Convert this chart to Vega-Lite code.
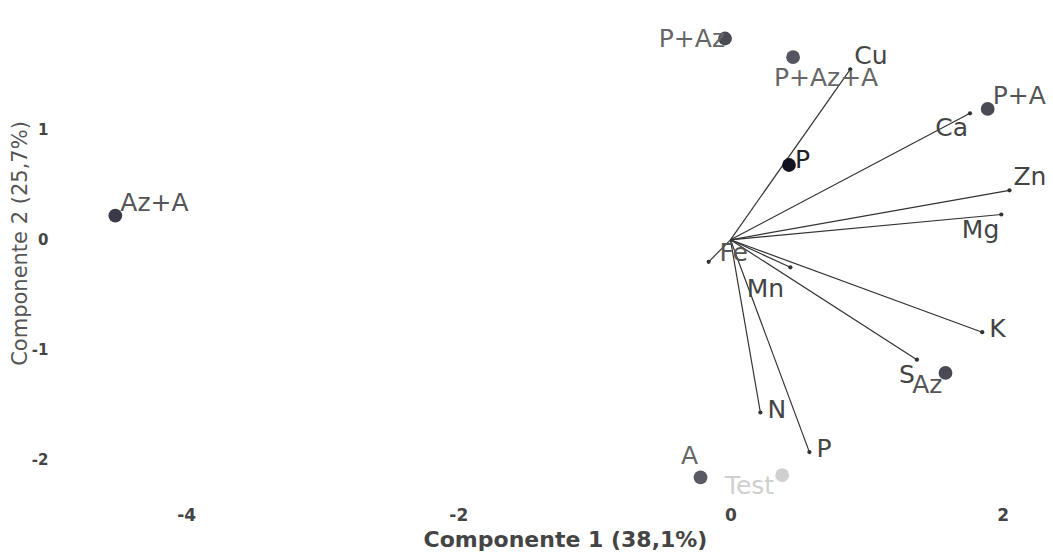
{
  "$schema": "https://vega.github.io/schema/vega-lite/v6.json",
  "width": 1003,
  "height": 495,
  "autosize": "none",
  "padding": {"left": 50, "top": 0, "right": 0, "bottom": 63},
  "background": "white",
  "datasets": {
    "scores": [
      {"name": "P+Az", "pc1": -0.04, "pc2": 1.83},
      {"name": "P+Az+A", "pc1": 0.46, "pc2": 1.66},
      {"name": "P+A", "pc1": 1.89, "pc2": 1.19},
      {"name": "P", "pc1": 0.43, "pc2": 0.68},
      {"name": "Az+A", "pc1": -4.52, "pc2": 0.22},
      {"name": "Az", "pc1": 1.58, "pc2": -1.21},
      {"name": "A", "pc1": -0.22, "pc2": -2.16},
      {"name": "Test", "pc1": 0.38, "pc2": -2.14}
    ],
    "loadings": [
      {"var": "Cu", "pc1": 0.88, "pc2": 1.55},
      {"var": "Ca", "pc1": 1.76, "pc2": 1.15},
      {"var": "Zn", "pc1": 2.05, "pc2": 0.45},
      {"var": "Mg", "pc1": 1.99, "pc2": 0.23},
      {"var": "K", "pc1": 1.85, "pc2": -0.84},
      {"var": "S", "pc1": 1.37, "pc2": -1.09},
      {"var": "N", "pc1": 0.22, "pc2": -1.57},
      {"var": "P", "pc1": 0.58, "pc2": -1.93},
      {"var": "Mn", "pc1": 0.44, "pc2": -0.25},
      {"var": "Fe", "pc1": -0.16, "pc2": -0.2}
    ]
  },
  "encoding": {
    "x": {
      "field": "pc1",
      "type": "quantitative",
      "scale": {"domain": [-5.0, 2.37], "nice": false, "zero": false},
      "axis": {
        "title": "Componente 1 (38,1%)",
        "values": [-4, -2, 0, 2],
        "labelExpr": "replace(datum.label, '\u2212', '-')",
        "grid": false,
        "domain": false,
        "ticks": false,
        "labelPadding": 12,
        "labelFontSize": 17,
        "labelFont": "DejaVu Sans",
        "labelFontWeight": "bold",
        "labelColor": "#444",
        "titleFont": "DejaVu Sans",
        "titleFontSize": 22,
        "titleFontWeight": "bold",
        "titleColor": "#444",
        "titleBaseline": "middle",
        "titleX": 515,
        "titleY": 44
      }
    },
    "y": {
      "field": "pc2",
      "type": "quantitative",
      "scale": {"domain": [-2.32, 2.18], "nice": false, "zero": false},
      "axis": {
        "title": "Componente 2 (25,7%)",
        "values": [-2, -1, 0, 1],
        "labelExpr": "replace(datum.label, '\u2212', '-')",
        "grid": false,
        "domain": false,
        "ticks": false,
        "labelPadding": 2,
        "labelFontSize": 15,
        "labelFont": "DejaVu Sans",
        "labelFontWeight": "bold",
        "labelColor": "#444",
        "titleFont": "DejaVu Sans",
        "titleFontSize": 21,
        "titleFontWeight": "normal",
        "titleColor": "#555",
        "titleBaseline": "middle",
        "titleX": -30,
        "titleY": 243
      }
    }
  },
  "layer": [
    {
      "data": {"values": [{}]},
      "mark": {"type": "rule", "color": "#aaa", "strokeDash": [2, 2], "strokeWidth": 1},
      "encoding": {"x": {"datum": 0}, "y": null}
    },
    {
      "data": {"values": [{}]},
      "mark": {"type": "rule", "color": "#aaa", "strokeDash": [2, 2], "strokeWidth": 1},
      "encoding": {"y": {"datum": 0}, "x": null}
    },
    {
      "data": {"name": "loadings"},
      "mark": {"type": "rule", "color": "#333", "strokeWidth": 1.2},
      "encoding": {
        "x": {"datum": 0},
        "y": {"datum": 0},
        "x2": {"field": "pc1"},
        "y2": {"field": "pc2"}
      }
    },
    {
      "data": {"name": "loadings"},
      "mark": {"type": "point", "filled": true, "size": 18, "color": "#333", "opacity": 1}
    },
    {
      "data": {"name": "scores"},
      "mark": {"type": "circle", "size": 190, "opacity": 1},
      "encoding": {
        "color": {
          "field": "name",
          "type": "nominal",
          "legend": null,
          "scale": {
            "domain": ["P+Az", "P+Az+A", "P+A", "P", "Az+A", "Az", "A", "Test"],
            "range": ["#4a4a55", "#555560", "#4a4a55", "#111122", "#3a3a48", "#4a4a55", "#5a5a62", "#cfcfcf"]
          }
        }
      }
    },
    {
      "data": {"name": "loadings"},
      "transform": [{"filter": {"field": "var", "oneOf": ["K", "N", "P"]}}],
      "mark": {"type": "text", "align": "left", "baseline": "middle", "dx": 7, "dy": -3, "fontSize": 25, "font": "DejaVu Sans", "color": "#444"},
      "encoding": {"text": {"field": "var"}}
    },
    {
      "data": {"name": "loadings"},
      "transform": [{"filter": {"field": "var", "oneOf": ["Cu", "Zn"]}}],
      "mark": {"type": "text", "align": "left", "baseline": "middle", "dx": 4, "dy": -13, "fontSize": 25, "font": "DejaVu Sans", "color": "#444"},
      "encoding": {"text": {"field": "var"}}
    },
    {
      "data": {"name": "loadings"},
      "transform": [{"filter": {"field": "var", "oneOf": ["Ca", "Mg", "S"]}}],
      "mark": {"type": "text", "align": "right", "baseline": "middle", "dx": -2, "dy": 15, "fontSize": 25, "font": "DejaVu Sans", "color": "#444"},
      "encoding": {"text": {"field": "var"}}
    },
    {
      "data": {"name": "loadings"},
      "transform": [{"filter": {"field": "var", "equal": "Mn"}}],
      "mark": {"type": "text", "align": "center", "baseline": "middle", "dx": -25, "dy": 22, "fontSize": 25, "font": "DejaVu Sans", "color": "#444"},
      "encoding": {"text": {"field": "var"}}
    },
    {
      "data": {"name": "loadings"},
      "transform": [{"filter": {"field": "var", "equal": "Fe"}}],
      "mark": {"type": "text", "align": "center", "baseline": "middle", "dx": 25, "dy": -9, "fontSize": 25, "font": "DejaVu Sans", "color": "#555"},
      "encoding": {"text": {"field": "var"}}
    },
    {
      "data": {"name": "scores"},
      "transform": [{"filter": {"field": "name", "equal": "P"}}],
      "mark": {"type": "text", "align": "left", "baseline": "middle", "dx": 6, "dy": -5, "fontSize": 25, "font": "DejaVu Sans", "color": "#222"},
      "encoding": {"text": {"field": "name"}}
    },
    {
      "data": {"name": "scores"},
      "transform": [{"filter": {"field": "name", "oneOf": ["P+A", "Az+A"]}}],
      "mark": {"type": "text", "align": "left", "baseline": "middle", "dx": 5, "dy": -13, "fontSize": 25, "font": "DejaVu Sans", "color": "#555"},
      "encoding": {"text": {"field": "name"}}
    },
    {
      "data": {"name": "scores"},
      "transform": [{"filter": {"field": "name", "equal": "Az"}}],
      "mark": {"type": "text", "align": "right", "baseline": "middle", "dx": -3, "dy": 12, "fontSize": 25, "font": "DejaVu Sans", "color": "#555"},
      "encoding": {"text": {"field": "name"}}
    },
    {
      "data": {"name": "scores"},
      "transform": [{"filter": {"field": "name", "equal": "P+Az"}}],
      "mark": {"type": "text", "align": "right", "baseline": "middle", "dx": 0, "dy": 0, "fontSize": 25, "font": "DejaVu Sans", "color": "#666"},
      "encoding": {"text": {"field": "name"}}
    },
    {
      "data": {"name": "scores"},
      "transform": [{"filter": {"field": "name", "equal": "P+Az+A"}}],
      "mark": {"type": "text", "align": "center", "baseline": "middle", "dx": 33, "dy": 21, "fontSize": 25, "font": "DejaVu Sans", "color": "#666"},
      "encoding": {"text": {"field": "name"}}
    },
    {
      "data": {"name": "scores"},
      "transform": [{"filter": {"field": "name", "equal": "A"}}],
      "mark": {"type": "text", "align": "center", "baseline": "middle", "dx": -11, "dy": -21, "fontSize": 25, "font": "DejaVu Sans", "color": "#666"},
      "encoding": {"text": {"field": "name"}}
    },
    {
      "data": {"name": "scores"},
      "transform": [{"filter": {"field": "name", "equal": "Test"}}],
      "mark": {"type": "text", "align": "right", "baseline": "middle", "dx": -8, "dy": 11, "fontSize": 25, "font": "DejaVu Sans", "color": "#d0d0d0"},
      "encoding": {"text": {"field": "name"}}
    }
  ],
  "config": {
    "view": {"stroke": null},
    "font": "DejaVu Sans"
  }
}
